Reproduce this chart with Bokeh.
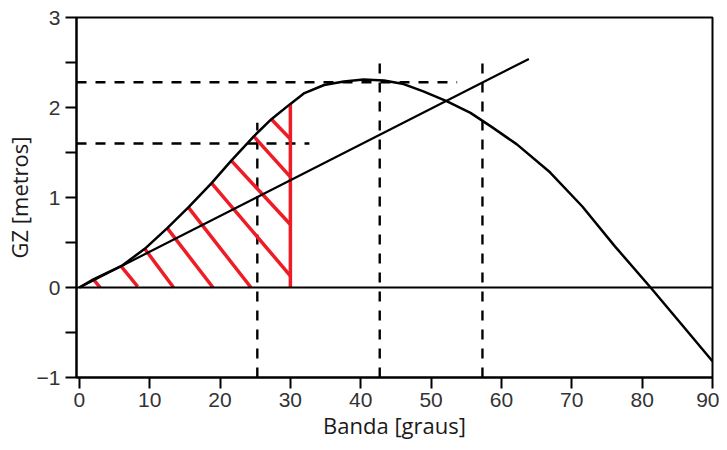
from bokeh.plotting import figure
from bokeh.models import Range1d, Span, FixedTicker
from bokeh.embed import file_html
from bokeh.resources import INLINE

# ---- data ----
angle = [0, 2, 6, 9.3, 12.5, 15.5, 18.8, 21.6, 24.8, 27.3, 30, 32, 34.8, 37.6, 40.4,
         43.3, 46.1, 48.9, 52.2, 55.6, 58.5, 62.2, 66.9, 71.5, 76.1, 81.2, 85.5, 90]
gz = [0, 0.09, 0.24, 0.43, 0.66, 0.89, 1.16, 1.41, 1.68, 1.87, 2.04, 2.16, 2.25, 2.29,
      2.31, 2.30, 2.26, 2.18, 2.07, 1.94, 1.79, 1.59, 1.28, 0.90, 0.46, 0.0, -0.40, -0.82]

tangent_x = [0, 63.9]
tangent_y = [0, 2.54]

hatch_x0 = [2.0, 5.9, 9.3, 12.5, 15.5, 18.8, 21.6, 24.8, 27.3]
hatch_y0 = [0.09, 0.24, 0.43, 0.66, 0.89, 1.16, 1.41, 1.68, 1.87]
hatch_x1 = [2.96, 8.3, 13.4, 19.0, 24.4, 30, 30, 30, 30]
hatch_y1 = [0, 0.01, 0, 0, 0, 0.13, 0.70, 1.23, 1.65]

limit_angle = 30
limit_gz = 2.04

hdash_y = [2.28, 1.6]
hdash_end = [53.7, 32.7]
vdash_x = [25.3, 42.7, 57.3]
vdash_top = [1.83, 2.53, 2.57]

x_ticks = [0, 10, 20, 30, 40, 50, 60, 70, 80, 90]
y_ticks = [-1, 0, 1, 2, 3]
y_minor = [-0.5, 0.5, 1.5, 2.5]

X0, X1 = -0.4, 90
Y0, Y1 = -1, 3

p = figure(width=719, height=442, output_backend="svg", toolbar_location=None,
           x_range=Range1d(X0, X1), y_range=Range1d(Y0, Y1),
           min_border_left=75, min_border_right=7, min_border_top=17, min_border_bottom=60)
p.grid.visible = False
p.outline_line_color = "black"
p.outline_line_width = 2
p.outline_line_alpha = 1

DASH = "10 9"
# dashed guide lines
p.segment(x0=[X0] * len(hdash_y), y0=hdash_y, x1=hdash_end, y1=hdash_y,
          line_color="black", line_width=2.4, line_dash=DASH)
p.segment(x0=vdash_x, y0=[Y0] * len(vdash_x), x1=vdash_x, y1=vdash_top,
          line_color="black", line_width=2.4, line_dash=DASH)

p.add_layout(Span(location=0, dimension="width", line_color="black", line_width=2))

# red hatch
p.segment(x0=hatch_x0, y0=hatch_y0, x1=hatch_x1, y1=hatch_y1,
          line_color="#ee1c25", line_width=3.5)
p.segment(x0=[limit_angle], y0=[0], x1=[limit_angle], y1=[limit_gz],
          line_color="#ee1c25", line_width=3.5)

# curves
p.line(tangent_x, tangent_y, line_color="black", line_width=2.2)
p.line(angle, gz, line_color="black", line_width=2.5, line_join="round")

# axes
p.xaxis.ticker = FixedTicker(ticks=x_ticks, minor_ticks=[])
p.yaxis.ticker = FixedTicker(ticks=y_ticks, minor_ticks=y_minor)
p.yaxis.major_label_overrides = {-1: "\u22121"}
for ax in (p.xaxis[0], p.yaxis[0]):
    ax.axis_line_width = 2
    ax.axis_line_color = "black"
    ax.major_tick_line_width = 2
    ax.major_tick_line_color = "black"
    ax.minor_tick_line_width = 2
    ax.minor_tick_line_color = "black"
    ax.major_tick_in = 0
    ax.major_tick_out = 11
    ax.minor_tick_in = 0
    ax.minor_tick_out = 11
    ax.major_label_text_font = "Liberation Sans"
    ax.major_label_text_font_size = "21px"
    ax.major_label_text_color = "#333333"
    ax.axis_label_text_font = "Open Sans"
    ax.axis_label_text_font_size = "22px"
    ax.axis_label_text_font_style = "normal"
    ax.axis_label_text_color = "#1a1a1a"
p.xaxis.major_label_standoff = 4
p.yaxis.major_label_standoff = 5
p.xaxis.axis_label = "Banda [graus]"
p.yaxis.axis_label = "GZ [metros]"
p.xaxis.axis_label_standoff = 0
p.yaxis.axis_label_standoff = 0

open("out.html", "w").write(file_html(p, INLINE))
